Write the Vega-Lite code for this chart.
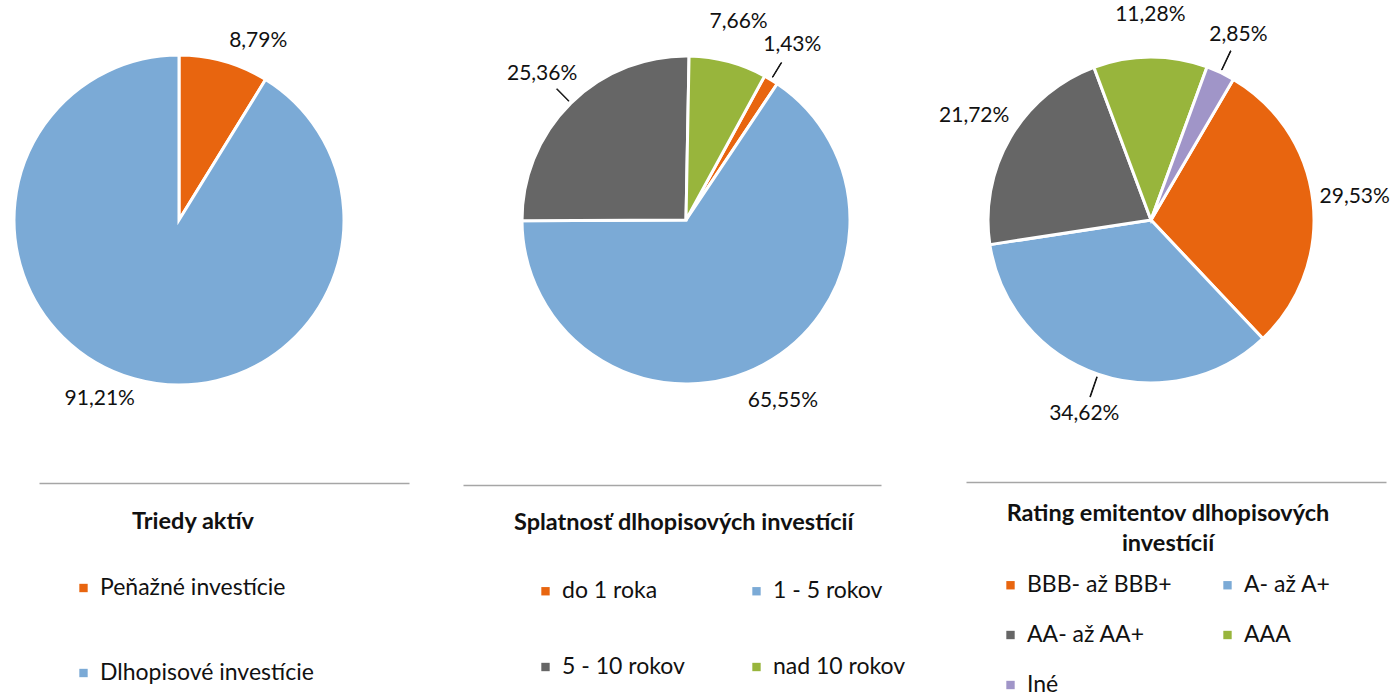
{
  "$schema": "https://vega.github.io/schema/vega-lite/v6.json",
  "padding": {"left": 8, "top": 0, "right": 0, "bottom": 0},
  "bounds": "flush",
  "spacing": 20,
  "config": {
    "view": {"stroke": null},
    "font": "Lato",
    "locale": {"number": {"decimal": ",", "thousands": " ", "grouping": [3], "currency": ["", " €"]}},
    "legend": {
      "orient": "none",
      "titleAnchor": "middle",
      "titleFont": "Lato",
      "titleFontSize": 23.5,
      "titleFontWeight": "bold",
      "titleColor": "#111111",
      "titleLimit": 600,
      "labelFont": "Lato",
      "labelFontSize": 23,
      "labelColor": "#111111",
      "labelLimit": 400,
      "labelOffset": 5,
      "symbolType": "square",
      "symbolSize": 70,
      "symbolStrokeWidth": 0
    }
  },
  "resolve": {"scale": {"color": "independent", "theta": "independent", "x": "independent"}, "legend": {"color": "independent"}},
  "hconcat": [
    {
      "width": 340,
      "height": 440,
      "data": {"values": [
        {"i": 1, "kategoria": "Peňažné investície", "podiel": 0.0879},
        {"i": 2, "kategoria": "Dlhopisové investície", "podiel": 0.9121}
      ]},
      "resolve": {"scale": {"theta": "independent"}},
      "layer": [
        {
          "mark": {"type": "point", "opacity": 0},
          "encoding": {"x": {"datum": 0, "type": "quantitative", "scale": {"domain": [0, 1], "range": [30, 400]}, "axis": {"domain": true, "domainColor": "#A6A6A6", "domainWidth": 1.5, "ticks": false, "labels": false, "grid": false, "title": null, "offset": 43}}}
        },
        {
          "mark": {"type": "arc", "outerRadius": 165, "stroke": "#ffffff", "strokeWidth": 3},
          "encoding": {
            "theta": {"field": "podiel", "type": "quantitative", "stack": true, "scale": {"range": [0, 6.2832]}},
            "order": {"field": "i"},
            "color": {"field": "kategoria", "type": "nominal", "sort": null,
              "scale": {"domain": ["Peňažné investície", "Dlhopisové investície"], "range": ["#E8650F", "#7BAAD6"]},
              "legend": {"title": "Triedy aktív", "legendX": 63, "legendY": 510, "columns": 1, "direction": "vertical", "titlePadding": 43, "rowPadding": 61}}
          }
        },
        {
          "mark": {"type": "text", "radius": 196, "fontSize": 21, "font": "Lato", "color": "#111111"},
          "encoding": {
            "theta": {"field": "podiel", "type": "quantitative", "stack": true, "scale": {"range": [0.14, 6.4232]}},
            "order": {"field": "i"},
            "text": {"field": "podiel", "type": "quantitative", "format": ".2%"}
          }
        }
      ]
    },
    {
      "width": 634,
      "height": 440,
      "data": {"values": [
        {"i": 1, "kategoria": "do 1 roka", "podiel": 0.0143},
        {"i": 2, "kategoria": "1 - 5 rokov", "podiel": 0.6555},
        {"i": 3, "kategoria": "5 - 10 rokov", "podiel": 0.2536},
        {"i": 4, "kategoria": "nad 10 rokov", "podiel": 0.0766}
      ]},
      "layer": [
        {
          "mark": {"type": "point", "opacity": 0},
          "encoding": {"x": {"datum": 0, "type": "quantitative", "scale": {"domain": [0, 1], "range": [94, 512]}, "axis": {"domain": true, "domainColor": "#A6A6A6", "domainWidth": 1.5, "ticks": false, "labels": false, "grid": false, "title": null, "offset": 45}}}
        },
        {
          "mark": {"type": "arc", "outerRadius": 164, "stroke": "#ffffff", "strokeWidth": 3},
          "encoding": {
            "theta": {"field": "podiel", "type": "quantitative", "stack": true, "scale": {"domain": [0, 1], "range": [0.5, 6.7832]}},
            "order": {"field": "i"},
            "color": {"field": "kategoria", "type": "nominal", "sort": null,
              "scale": {"domain": ["do 1 roka", "1 - 5 rokov", "5 - 10 rokov", "nad 10 rokov"], "range": ["#E8650F", "#7BAAD6", "#666666", "#98B53C"]},
              "legend": {"title": "Splatnosť dlhopisových investícií", "titleAnchor": "start", "symbolOffset": 20, "legendX": 145, "legendY": 511, "columns": 2, "direction": "horizontal", "titlePadding": 45, "rowPadding": 52, "columnPadding": 40}}
          }
        },
        {
          "transform": [
            {"stack": "podiel", "groupby": [], "sort": [{"field": "i"}], "as": ["s0", "s1"]},
            {"filter": {"field": "kategoria", "oneOf": ["do 1 roka", "5 - 10 rokov"]}},
            {"calculate": "(datum.s0 + datum.s1) / 2 - 0.0003", "as": "l0"},
            {"calculate": "(datum.s0 + datum.s1) / 2 + 0.0003", "as": "l1"}
          ],
          "mark": {"type": "arc", "radius": 184, "radius2": 167, "fill": "#111111", "stroke": "#111111", "strokeWidth": 1},
          "encoding": {
            "theta": {"field": "l0", "type": "quantitative", "stack": false},
            "theta2": {"field": "l1"}
          }
        },
        {
          "mark": {"type": "text", "radius": 205, "fontSize": 21, "font": "Lato", "color": "#111111"},
          "encoding": {
            "theta": {"field": "podiel", "type": "quantitative", "stack": true},
            "order": {"field": "i"},
            "text": {"field": "podiel", "type": "quantitative", "format": ".2%"}
          }
        }
      ]
    },
    {
      "width": 256,
      "height": 440,
      "data": {"values": [
        {"i": 1, "kategoria": "BBB- až BBB+", "podiel": 0.2953},
        {"i": 2, "kategoria": "A-  až A+", "podiel": 0.3462},
        {"i": 3, "kategoria": "AA- až AA+", "podiel": 0.2172},
        {"i": 4, "kategoria": "AAA", "podiel": 0.1128},
        {"i": 5, "kategoria": "Iné", "podiel": 0.0285}
      ]},
      "layer": [
        {
          "mark": {"type": "point", "opacity": 0},
          "encoding": {"x": {"datum": 0, "type": "quantitative", "scale": {"domain": [0, 1], "range": [-57, 363]}, "axis": {"domain": true, "domainColor": "#A6A6A6", "domainWidth": 1.5, "ticks": false, "labels": false, "grid": false, "title": null, "offset": 42}}}
        },
        {
          "mark": {"type": "arc", "outerRadius": 163, "stroke": "#ffffff", "strokeWidth": 3},
          "encoding": {
            "theta": {"field": "podiel", "type": "quantitative", "stack": true, "scale": {"domain": [0, 1], "range": [0.53, 6.8132]}},
            "order": {"field": "i"},
            "color": {"field": "kategoria", "type": "nominal", "sort": null,
              "scale": {"domain": ["BBB- až BBB+", "A-  až A+", "AA- až AA+", "AAA", "Iné"], "range": ["#E8650F", "#7BAAD6", "#666666", "#98B53C", "#A095C8"]},
              "legend": {"title": ["Rating emitentov dlhopisových", "investícií"], "titleLineHeight": 30, "legendX": -24, "legendY": 502, "columns": 2, "direction": "horizontal", "titlePadding": 18, "rowPadding": 26, "columnPadding": 44}}
          }
        },
        {
          "transform": [
            {"stack": "podiel", "groupby": [], "sort": [{"field": "i"}], "as": ["s0", "s1"]},
            {"filter": {"field": "kategoria", "oneOf": ["Iné", "A-  až A+"]}},
            {"calculate": "(datum.s0 + datum.s1) / 2 - 0.0003", "as": "l0"},
            {"calculate": "(datum.s0 + datum.s1) / 2 + 0.0003", "as": "l1"}
          ],
          "mark": {"type": "arc", "radius": 187, "radius2": 166, "fill": "#111111", "stroke": "#111111", "strokeWidth": 1},
          "encoding": {
            "theta": {"field": "l0", "type": "quantitative", "stack": false},
            "theta2": {"field": "l1"}
          }
        },
        {
          "mark": {"type": "text", "radius": 205, "fontSize": 21, "font": "Lato", "color": "#111111"},
          "encoding": {
            "theta": {"field": "podiel", "type": "quantitative", "stack": true},
            "order": {"field": "i"},
            "text": {"field": "podiel", "type": "quantitative", "format": ".2%"}
          }
        }
      ]
    }
  ]
}
